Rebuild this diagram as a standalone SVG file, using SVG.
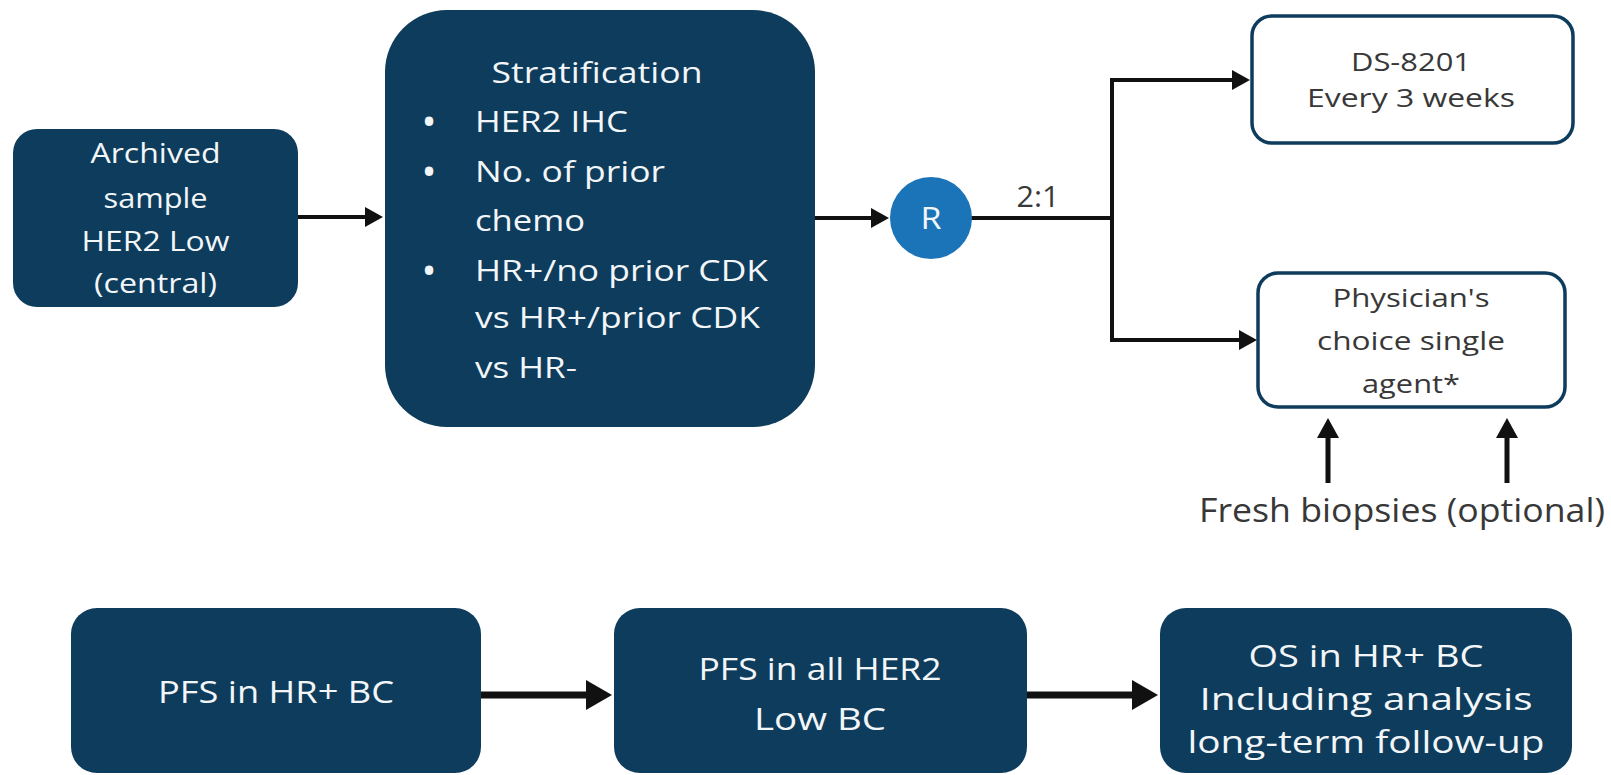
<svg xmlns="http://www.w3.org/2000/svg" width="1611" height="775" viewBox="0 0 1611 775">
<style>
.navy{fill:#0E3C5C}
.out{fill:#FFFFFF;stroke:#0E3C5C;stroke-width:3.5}
.wt{fill:#F3F6F8;font-family:"Open Sans","Liberation Sans",sans-serif;font-weight:500}
.dk{fill:#383838;font-family:"Open Sans","Liberation Sans",sans-serif;font-weight:400}
.c{text-anchor:middle}
.bul{font-size:40px}
.conn{fill:none;stroke:#111111;stroke-width:4;stroke-linejoin:miter}
</style>
<defs>
<marker id="ah" viewBox="0 0 18 20" refX="8" refY="10" markerWidth="18" markerHeight="20" orient="auto" markerUnits="userSpaceOnUse"><path d="M0,0 L18,10 L0,20 z" fill="#111111"/></marker>
<marker id="ahUp" viewBox="0 0 20 22" refX="8" refY="11" markerWidth="20" markerHeight="22" orient="auto" markerUnits="userSpaceOnUse"><path d="M0,0 L20,11 L0,22 z" fill="#111111"/></marker>
<marker id="ahBig" viewBox="0 0 26 30" refX="14" refY="15" markerWidth="26" markerHeight="30" orient="auto" markerUnits="userSpaceOnUse"><path d="M0,0 L26,15 L0,30 z" fill="#111111"/></marker>
</defs>
<rect width="1611" height="775" fill="#FFFFFF"/>

<g id="connectors">
<path class="conn" d="M298,217 H373" marker-end="url(#ah)"/>
<path class="conn" d="M815,218 H879" marker-end="url(#ah)"/>
<path class="conn" d="M971,218 H1112"/>
<path class="conn" d="M1112,342 V80 H1240" marker-end="url(#ah)"/>
<path class="conn" d="M1110,340 H1247" marker-end="url(#ah)"/>
<path class="conn" style="stroke-width:5" d="M1328,483 V430" marker-end="url(#ahUp)"/>
<path class="conn" style="stroke-width:5" d="M1507,483 V430" marker-end="url(#ahUp)"/>
<path class="conn" style="stroke-width:7" d="M481,695 H600" marker-end="url(#ahBig)"/>
<path class="conn" style="stroke-width:7" d="M1027,695 H1146" marker-end="url(#ahBig)"/>
<text class="dk c" x="1038" y="207" font-size="30" textLength="43" lengthAdjust="spacingAndGlyphs">2:1</text>
</g>

<g id="archived">
<rect class="navy" x="13" y="129" width="285" height="178" rx="24"/>
<g class="wt c" font-size="28">
<text x="155.5" y="163" textLength="130" lengthAdjust="spacingAndGlyphs">Archived</text>
<text x="155.5" y="208" textLength="104" lengthAdjust="spacingAndGlyphs">sample</text>
<text x="155.5" y="251" textLength="148" lengthAdjust="spacingAndGlyphs">HER2 Low</text>
<text x="155.5" y="293" textLength="123" lengthAdjust="spacingAndGlyphs">(central)</text>
</g>
</g>

<g id="stratification">
<rect class="navy" x="385" y="10" width="430" height="417" rx="62"/>
<g class="wt" font-size="29">
<text class="c" x="597" y="83" textLength="211" lengthAdjust="spacingAndGlyphs">Stratification</text>
<text class="c bul" x="429" y="136">•</text>
<text class="c bul" x="429" y="186">•</text>
<text class="c bul" x="429" y="285">•</text>
<text x="475" y="132" textLength="153" lengthAdjust="spacingAndGlyphs">HER2 IHC</text>
<text x="475" y="182" textLength="190" lengthAdjust="spacingAndGlyphs">No. of prior</text>
<text x="475" y="231" textLength="110" lengthAdjust="spacingAndGlyphs">chemo</text>
<text x="475" y="281" textLength="293" lengthAdjust="spacingAndGlyphs">HR+/no prior CDK</text>
<text x="475" y="328" textLength="285" lengthAdjust="spacingAndGlyphs">vs HR+/prior CDK</text>
<text x="475" y="378" textLength="102" lengthAdjust="spacingAndGlyphs">vs HR-</text>
</g>
</g>

<g id="randomize">
<circle cx="931" cy="218" r="41" fill="#1B74B8"/>
<text class="wt c" x="931" y="229" font-size="31" textLength="21" lengthAdjust="spacingAndGlyphs">R</text>
</g>

<g id="ds8201">
<rect class="out" x="1252" y="16" width="321" height="127" rx="20"/>
<g class="dk c" font-size="26">
<text x="1411" y="71" textLength="120" lengthAdjust="spacingAndGlyphs">DS-8201</text>
<text x="1411" y="107" textLength="208" lengthAdjust="spacingAndGlyphs">Every 3 weeks</text>
</g>
</g>

<g id="physician">
<rect class="out" x="1258" y="273" width="307" height="134" rx="20"/>
<g class="dk c" font-size="26">
<text x="1411" y="307" textLength="157" lengthAdjust="spacingAndGlyphs">Physician's</text>
<text x="1411" y="350" textLength="188" lengthAdjust="spacingAndGlyphs">choice single</text>
<text x="1411" y="393" textLength="98" lengthAdjust="spacingAndGlyphs">agent*</text>
</g>
</g>

<g id="biopsies">
<text class="dk c" x="1402" y="522" font-size="33" textLength="406" lengthAdjust="spacingAndGlyphs">Fresh biopsies (optional)</text>
</g>

<g id="pfs-hr">
<rect class="navy" x="71" y="608" width="410" height="165" rx="26"/>
<text class="wt c" x="276" y="703" font-size="31" textLength="236" lengthAdjust="spacingAndGlyphs">PFS in HR+ BC</text>
</g>

<g id="pfs-all">
<rect class="navy" x="614" y="608" width="413" height="165" rx="26"/>
<g class="wt c" font-size="31">
<text x="820" y="680" textLength="243" lengthAdjust="spacingAndGlyphs">PFS in all HER2</text>
<text x="820" y="730" textLength="132" lengthAdjust="spacingAndGlyphs">Low BC</text>
</g>
</g>

<g id="os-hr">
<rect class="navy" x="1160" y="608" width="412" height="165" rx="26"/>
<g class="wt c" font-size="31">
<text x="1366" y="667" textLength="235" lengthAdjust="spacingAndGlyphs">OS in HR+ BC</text>
<text x="1366" y="710" textLength="333" lengthAdjust="spacingAndGlyphs">Including analysis</text>
<text x="1366" y="753" textLength="357" lengthAdjust="spacingAndGlyphs">long-term follow-up</text>
</g>
</g>
</svg>
